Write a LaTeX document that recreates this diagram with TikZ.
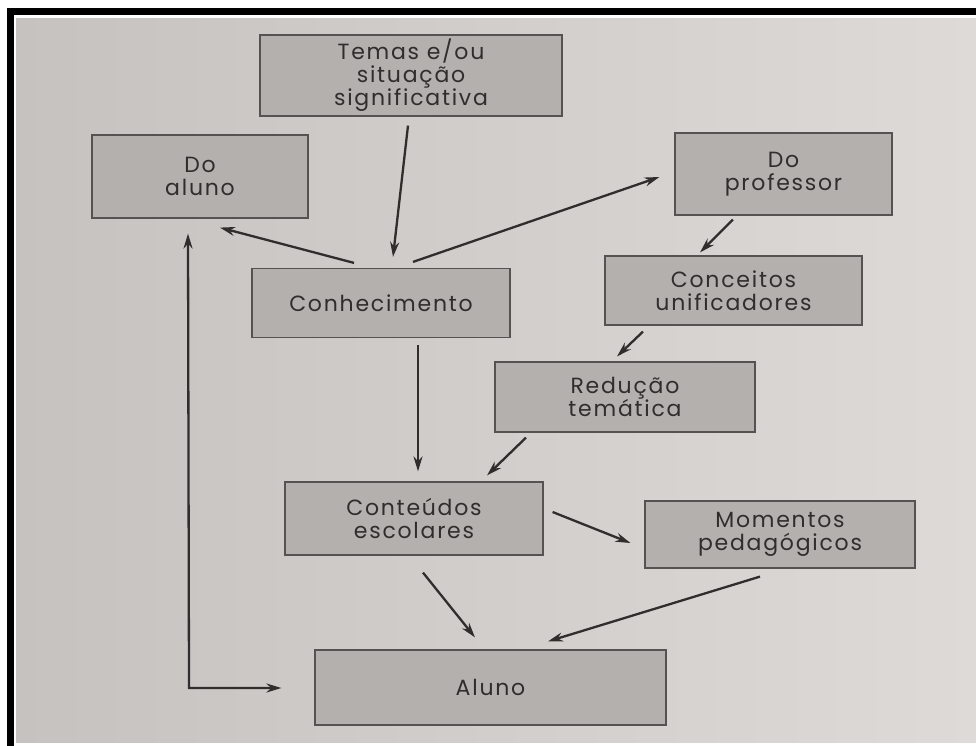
\documentclass[tikz,border=0pt]{standalone}
\usepackage{fontspec}
\setmainfont{Poppins}[LetterSpace=8]
\usetikzlibrary{arrows.meta,calc}

\definecolor{pagelight}{HTML}{DEDAD7}
\definecolor{pagedark}{HTML}{C6C2C0}
\definecolor{boxfill}{HTML}{B3B0AE}
\definecolor{boxline}{HTML}{555352}
\definecolor{inkc}{HTML}{2F2E2D}

\tikzset{
  stagebox/.style={draw=boxline, line width=1.2pt, fill=boxfill, align=center,
    text=inkc, inner sep=0pt,
    font=\fontsize{22}{23}\selectfont},
  flow/.style={draw=inkc, line width=2.3pt,
    -{Stealth[length=15pt,width=9pt]}},
  bothflow/.style={draw=inkc, line width=2.3pt,
    {Stealth[length=15pt,width=9pt]}-{Stealth[length=15pt,width=9pt]}},
}

\begin{document}
\begin{tikzpicture}[x=1pt,y=-1pt]
  % canvas and outer frame
  \fill[white] (0,0) rectangle (976,746);
  \useasboundingbox (0,0) rectangle (976,746);
  \shade[left color=pagedark, right color=pagelight] (16,19) rectangle (976,742);
  \fill[black] (7,8) rectangle (976,15);
  \fill[black] (7,8) rectangle (14,746);

  % stages
  \node[stagebox, minimum width=302pt, minimum height=81pt] (temas) at (411,75.5)
    {Temas e/ou\\situação\\significativa};
  \node[stagebox, minimum width=216pt, minimum height=83pt] (doaluno) at (200,176.5)
    {Do\\aluno};
  \node[stagebox, minimum width=217pt, minimum height=82pt] (doprof) at (783.5,174)
    {Do\\professor};
  \node[stagebox, minimum width=258pt, minimum height=69pt] (conhec) at (381,303)
    {Conhecimento};
  \node[stagebox, minimum width=257pt, minimum height=69pt] (conceitos) at (733.5,290.5)
    {Conceitos\\unificadores};
  \node[stagebox, minimum width=260pt, minimum height=70pt] (reducao) at (625,397)
    {Redução\\temática};
  \node[stagebox, minimum width=258pt, minimum height=73pt] (conteudos) at (414,518.5)
    {Conteúdos\\escolares};
  \node[stagebox, minimum width=270pt, minimum height=67pt] (momentos) at (780,534.5)
    {Momentos\\pedagógicos};
  \node[stagebox, minimum width=351pt, minimum height=75pt] (aluno) at (490.5,687.5)
    {Aluno};

  % connectors
  \draw[flow] ($(temas.south)+(-3,9)$) -- ($(conhec.north)+(12,-11)$);
  \draw[flow] ($(conhec.north)+(-27,-5)$) -- ($(doaluno.south)+(20,9)$);
  \draw[flow] ($(conhec.north)+(32,-6)$) -- ($(doprof.west)+(-15,3)$);
  \draw[flow] ($(doprof.south)+(-50.5,4)$) -- ($(conceitos.north)+(-33.5,-3)$);
  \draw[flow] ($(conceitos.south)+(-90.5,6)$) -- ($(reducao.north)+(-8,-5)$);
  \draw[flow] ($(reducao.south)+(-99,5)$) -- ($(conteudos.north)+(73,-6)$);
  \draw[flow] ($(conhec.south)+(37,7)$) -- ($(conteudos.north)+(4,-10)$);
  \draw[flow] ($(conteudos.east)+(9,-6.5)$) -- ($(momentos.west)+(-14,8.5)$);
  \draw[flow] ($(conteudos.south)+(9,17)$) -- ($(aluno.north)+(-15.5,-12)$);
  \draw[flow] ($(momentos.south)+(-20,8)$) -- ($(aluno.north)+(57.5,-8)$);
  \coordinate (turn) at (189,688);
  \draw[bothflow] ($(doaluno.south)+(-12,15)$) -- (turn) -- ($(aluno.west)+(-33,0.5)$);
\end{tikzpicture}
\end{document}
